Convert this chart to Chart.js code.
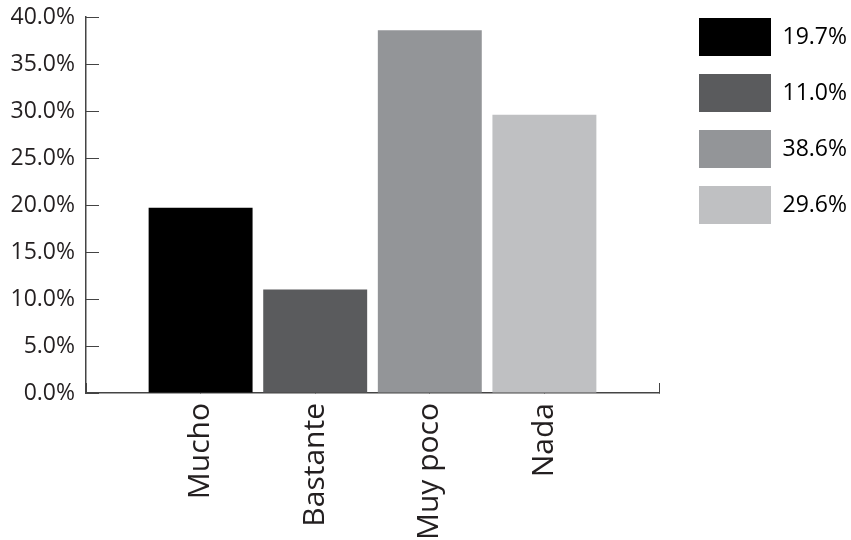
<!DOCTYPE html>
<html>
<head>
<meta charset="utf-8">
<script src="https://cdn.jsdelivr.net/npm/chart.js@4"></script>
<style>
  body { margin: 0; background: #fff; }
</style>
</head>
<body>
<canvas id="myChart" width="851" height="540"></canvas>
<script>
const categories = ["Mucho", "Bastante", "Muy poco", "Nada"];
const values = [19.7, 11.0, 38.6, 29.6];
const barColors = ["#000000", "#5a5b5d", "#939598", "#bfc0c2"];
const yTicks = [0, 5, 10, 15, 20, 25, 30, 35, 40];

// empty slot on each side, like the original
const labels = [""].concat(categories, [""]);
const barData = [null].concat(values, [null]);

const axisColor = "#444444";
const textColor = "#231f20";

var ctx = document.getElementById("myChart").getContext("2d");
var chart = new Chart(ctx, {
  type: "bar",
  data: {
    labels: labels,
    datasets: [
      {
        data: barData,
        backgroundColor: [null].concat(barColors, [null]),
        borderWidth: 0,
        barPercentage: 1,
        categoryPercentage: 0.907,
      },
    ],
  },
  options: {
    responsive: false,
    animation: false,
    layout: { padding: 0 },
    plugins: {
      tooltip: { enabled: false },
      legend: {
        position: "right",
        align: "start",
        maxWidth: 170,
        labels: {
          boxWidth: 72,
          boxHeight: 38,
          padding: 18,
          color: textColor,
          font: { family: "Open Sans", size: 23 },
          generateLabels: () =>
            values.map((v, i) => ({
              text: v.toFixed(1) + "%",
              fillStyle: barColors[i],
              strokeStyle: barColors[i],
              lineWidth: 0,
              index: i,
            })),
        },
        onClick: null,
      },
    },
    scales: {
      x: {
        offset: false,
        grid: {
          offset: false,
          drawOnChartArea: false,
          drawTicks: true,
          tickLength: -10,
          color: axisColor,
          lineWidth: 1,
        },
        border: { display: true, color: axisColor, width: 1.5 },
        ticks: {
          minRotation: 90,
          maxRotation: 90,
          autoSkip: false,
          padding: 20,
          color: textColor,
          font: { family: "Open Sans", size: 30 },
        },
        afterFit: (s) => {
          s.height = 147;
        },
      },
      y: {
        min: 0,
        max: 40,
        afterBuildTicks: (s) => {
          s.ticks = yTicks.map((v) => ({ value: v }));
        },
        grid: {
          drawOnChartArea: false,
          drawTicks: true,
          tickLength: -13,
          color: axisColor,
          lineWidth: 1,
        },
        border: { display: true, color: axisColor, width: 1.5 },
        ticks: {
          padding: 24,
          color: textColor,
          font: { family: "Open Sans", size: 23 },
          callback: (v) => v.toFixed(1) + "%",
        },
        afterFit: (s) => {
          s.width = 86;
          s.paddingTop = 17;
        },
      },
      // empty spacer between the plot and the legend
      gap: {
        axis: "y",
        position: "right",
        grid: { display: false },
        border: { display: false },
        ticks: { display: false },
        afterFit: (s) => {
          s.width = 22;
        },
      },
    },
  },
});
</script>
</body>
</html>
